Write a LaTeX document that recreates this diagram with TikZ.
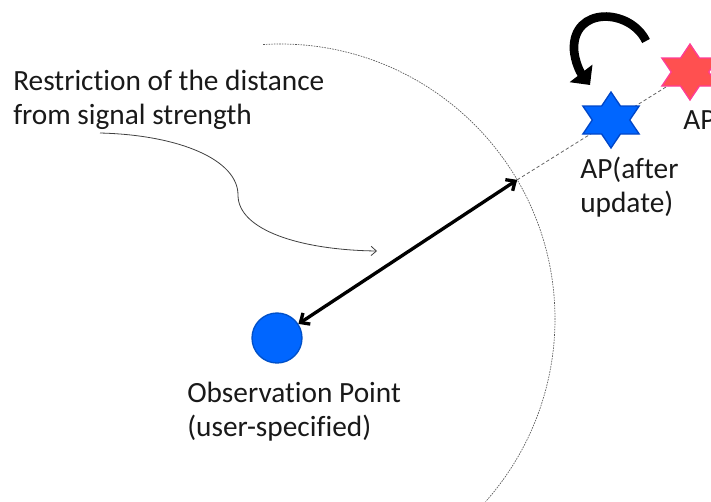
\documentclass[tikz,border=0pt]{standalone}
\usepackage{fontspec}
\setmainfont{Carlito}[Ligatures=NoCommon]
\usetikzlibrary{arrows.meta,shapes.geometric,calc}
\definecolor{obsblue}{RGB}{0,102,255}
\definecolor{obsline}{RGB}{0,80,200}
\definecolor{newapfill}{RGB}{0,102,255}
\definecolor{newapline}{RGB}{0,70,200}
\definecolor{oldapfill}{RGB}{255,80,80}
\definecolor{oldapline}{RGB}{255,60,150}
\begin{document}
\begin{tikzpicture}[x=0.75pt,y=-0.75pt,
  txt/.style={font=\fontsize{22}{25.5}\selectfont, align=left, anchor=base west, inner sep=0pt, text=black!90},
  rangearc/.style={draw=black!65, line width=0.5pt, dash pattern=on 1.2pt off 0.8pt},
  apline/.style={draw=black!60, line width=0.6pt, dash pattern=on 2.5pt off 1.8pt},
  distarrow/.style={draw=black, line width=2.5pt, {Straight Barb[length=5.5pt,width=10pt]}-{Straight Barb[length=5.5pt,width=10pt]}},
  notearrow/.style={draw=black!75, line width=0.6pt, -{Straight Barb[length=4pt,width=7pt]}},
  turnarrow/.style={draw=black, line width=6.5pt, -{Triangle[length=11pt,width=21pt]}},
  apstar/.style={star, star points=6, star point ratio=1.732, minimum size=42pt, inner sep=0pt, line width=1pt, transform shape},
  obspoint/.style={circle, fill=obsblue, draw=obsline, line width=1pt, minimum size=37.5pt, inner sep=0pt}
]
\useasboundingbox (0,0) rectangle (711,501);

% reachable range around the observation point
\coordinate (rc) at (280,319);
\coordinate (arcpt) at ($(rc)+(-30.4:275)$);
\draw[rangearc] ($(rc)+(-93.5:275)$) arc[start angle=-93.5, end angle=41.6, radius=275];

% line of positions towards the access point
\coordinate (oldc) at (690,72);
\coordinate (newc) at (611,120);
\draw[apline] (arcpt) -- (oldc);

% access point before and after the update
\begin{scope}[shift={(oldc)}, xscale=1.16]
  \node[apstar, fill=oldapfill, draw=oldapline] (oldap) at (0,0) {};
\end{scope}
\begin{scope}[shift={(newc)}, xscale=1.16]
  \node[apstar, fill=newapfill, draw=newapline] (newap) at (0,0) {};
\end{scope}

% update move
\coordinate (turnstart) at (646,41);
\coordinate (turnend) at (590,85);
\draw[turnarrow] (turnstart) .. controls (630,8) and (572,6) .. (574,50)
  .. controls (575,62) and (580,72) .. (turnend);

% observation point and its distance to the range
\node[obspoint] (obs) at (277,338) {};
\draw[distarrow] (obs) -- (arcpt);

% labels (anchored at the baseline of their last line)
\node[txt] (restr) at (13,124) {Restriction of the distance\\from signal strength};
\node[txt] (obslabel) at (187,436) {Observation Point\\(user-specified)};
\node[txt] (newlabel) at (580,212) {AP(after\\update)};
\node[txt] (oldlabel) at (683,129) {AP};

% pointer from the note to the range
\coordinate (notestart) at (100,133);
\coordinate (noteend) at (377,251);
\draw[notearrow] (notestart) .. controls (180,135) and (238,160) .. (238,195)
  .. controls (238,230) and (300,250) .. (noteend);
\end{tikzpicture}
\end{document}
